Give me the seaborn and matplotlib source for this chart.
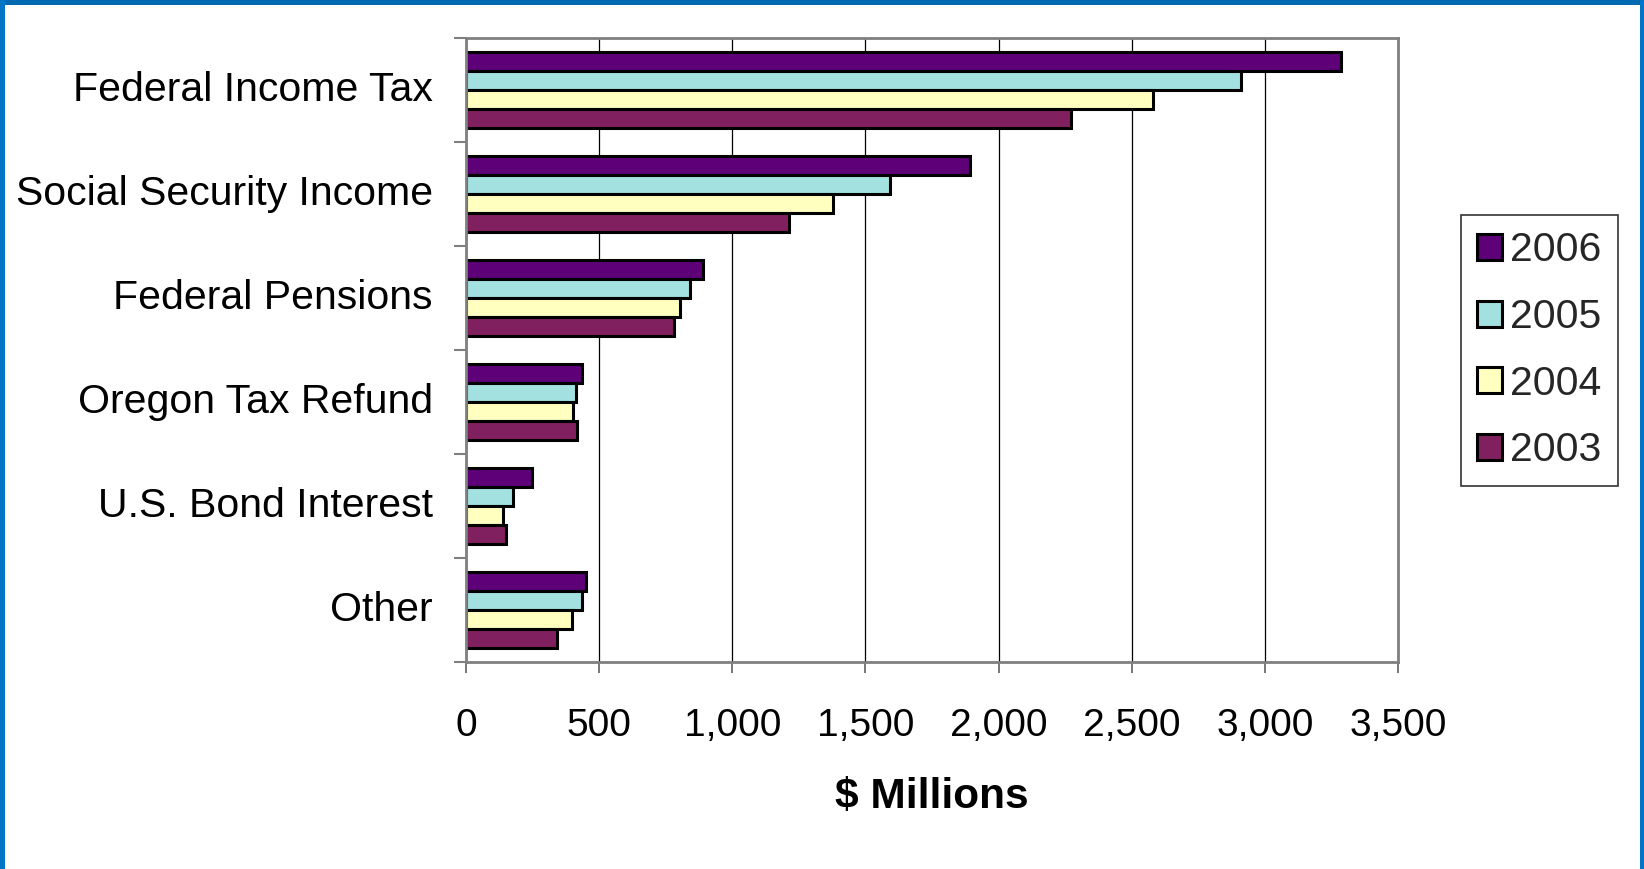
import matplotlib
matplotlib.use("Agg")
import matplotlib.pyplot as plt
import matplotlib.patches as mpatches
from matplotlib.ticker import FixedLocator, FuncFormatter
import seaborn as sns
import pandas as pd

# Income sources (top to bottom) and yearly amounts in $ millions
sources = ["Federal Income Tax", "Social Security Income", "Federal Pensions",
           "Oregon Tax Refund", "U.S. Bond Interest", "Other"]
years = ["2006", "2005", "2004", "2003"]
vals_2006 = [3285, 1892, 890, 437, 249, 450]
vals_2005 = [2912, 1593, 840, 412, 176, 437]
vals_2004 = [2579, 1379, 802, 400, 139, 399]
vals_2003 = [2272, 1212, 781, 415, 152, 340]
year_colors = ["#5E0078", "#A3E0E0", "#FFFFC0", "#80205E"]
x_ticks = [0, 500, 1000, 1500, 2000, 2500, 3000, 3500]

series = {"2006": vals_2006, "2005": vals_2005, "2004": vals_2004, "2003": vals_2003}
rows = []
for yr in years:
    for src, v in zip(sources, series[yr]):
        rows.append({"source": src, "year": yr, "value": v})
df = pd.DataFrame(rows)

sns.set_theme(style="white")
plt.rcParams["font.family"] = ["Liberation Sans", "DejaVu Sans"]

W, H = 1644, 869
fig = plt.figure(figsize=(W / 100, H / 100), dpi=100)
fig.patch.set_facecolor("white")

left, right, top, bottom = 466, 1398, 38, 662
ax = fig.add_axes([left / W, 1 - bottom / H, (right - left) / W, (bottom - top) / H])

sns.barplot(data=df, y="source", x="value", hue="year", hue_order=years,
            order=sources, orient="h", palette=year_colors, edgecolor="black",
            linewidth=2.2, width=0.73, ax=ax, legend=False, saturation=1)

ax.set_xlim(0, 3500)
ax.set_ylim(len(sources) - 0.5, -0.5)
ax.xaxis.set_major_locator(FixedLocator(x_ticks))
ax.xaxis.set_major_formatter(FuncFormatter(lambda v, p: f"{int(v):,}"))
ax.grid(axis="x", color="black", linewidth=0.9)
ax.set_axisbelow(True)

# Category boundaries carry the tick marks; names sit at the centres
ax.yaxis.set_major_locator(FixedLocator([i - 0.5 for i in range(len(sources) + 1)]))
ax.yaxis.set_major_formatter(FuncFormatter(lambda v, p: ""))
ax.yaxis.set_minor_locator(FixedLocator(list(range(len(sources)))))
ax.set_yticklabels(sources, minor=True)
ax.tick_params(axis="y", which="major", left=True, length=9, width=1.5, color="#808080")
ax.tick_params(axis="y", which="minor", left=False, length=0, pad=24, labelsize=29.5)
ax.tick_params(axis="x", bottom=True, length=8, width=1.2, color="#606060", pad=25,
               labelsize=28)
for t in ax.get_xticklabels():
    t.set_color("black")
for t in ax.get_yticklabels(minor=True):
    t.set_color("black")
    t.set_verticalalignment("center")

for s in ax.spines.values():
    s.set_visible(True)
    s.set_color("#808080")
    s.set_linewidth(2)

ax.set_ylabel("")
ax.set_xlabel("$ Millions", fontsize=30.5, fontweight="bold", labelpad=24, color="black")

handles = [mpatches.Patch(facecolor=c, edgecolor="black", linewidth=2.2, label=y)
           for c, y in zip(year_colors, years)]
leg = fig.legend(handles=handles, loc="upper left",
                 bbox_to_anchor=(1461 / W, 1 - 215 / H), fontsize=29.5,
                 frameon=True, fancybox=False, edgecolor="black",
                 handlelength=0.6, handleheight=0.6, handletextpad=0.2,
                 labelspacing=0.7, borderpad=0.4, borderaxespad=0)
leg.get_frame().set_linewidth(1.2)

# Blue frame on the top, left and right edges
blue = "#0069B4"
fig.patches.append(mpatches.Rectangle((0, 1 - 5 / H), 1, 5 / H, transform=fig.transFigure,
                                      facecolor=blue, edgecolor="none", zorder=10))
fig.patches.append(mpatches.Rectangle((0, 0), 5 / W, 1, transform=fig.transFigure,
                                      facecolor="#0074C6", edgecolor="none", zorder=10))
fig.patches.append(mpatches.Rectangle((1 - 4 / W, 0), 4 / W, 1, transform=fig.transFigure,
                                      facecolor="#0074C6", edgecolor="none", zorder=10))

fig.savefig("out.png", dpi=100)
